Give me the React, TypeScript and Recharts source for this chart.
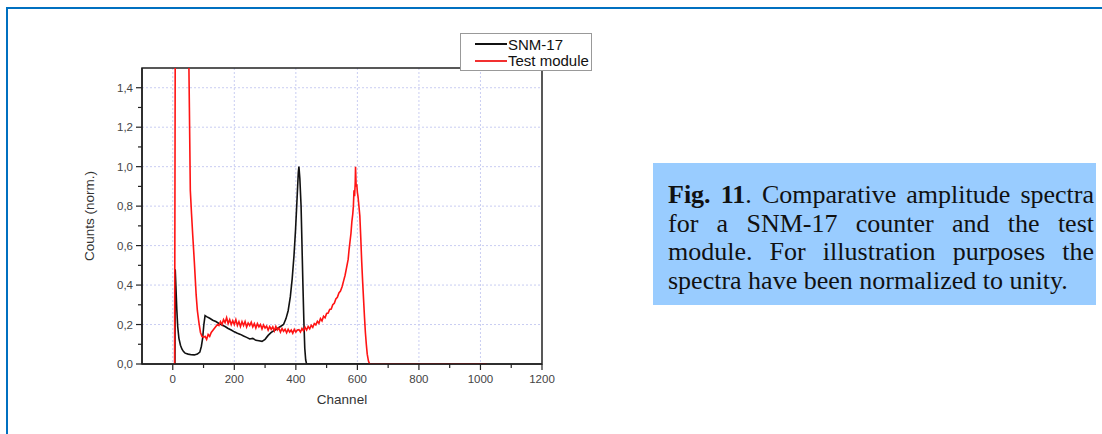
import React from "react";
import {
  LineChart,
  Line,
  XAxis,
  YAxis,
  CartesianGrid,
  Legend,
  ReferenceArea,
} from "recharts";

// channel, normalized counts
const snm17Points: [number, number][] = [
  [7, 0], [8, 0.48], [10, 0.4], [13, 0.28], [16, 0.19], [20, 0.13], [25, 0.095],
  [30, 0.075], [35, 0.063], [40, 0.055], [50, 0.05], [60, 0.047], [70, 0.046],
  [80, 0.05], [88, 0.06], [93, 0.09], [97, 0.13], [101, 0.2], [105, 0.245],
  [110, 0.24], [120, 0.232], [130, 0.222], [140, 0.215], [150, 0.205], [160, 0.198],
  [170, 0.19], [180, 0.18], [190, 0.172], [200, 0.163], [210, 0.156], [220, 0.15],
  [230, 0.142], [240, 0.135], [250, 0.127], [260, 0.13], [270, 0.12], [280, 0.118],
  [290, 0.115], [300, 0.125], [310, 0.145], [320, 0.16], [330, 0.17], [340, 0.18],
  [350, 0.19], [360, 0.2], [368, 0.23], [375, 0.27], [382, 0.34], [388, 0.43],
  [394, 0.55], [399, 0.68], [404, 0.84], [408, 0.97], [410, 1.0], [413, 0.94],
  [417, 0.8], [420, 0.6], [423, 0.4], [426, 0.22], [429, 0.08], [432, 0.02],
  [435, 0], [1020, 0],
];

const testModulePoints: [number, number][] = [
  [6, 0], [8, 1.6], [9, 3], [49, 3], [51, 1.7], [54, 1.3], [57, 0.88], [61, 0.76],
  [65, 0.65], [70, 0.52], [76, 0.35], [80, 0.27], [85, 0.21], [90, 0.16], [95, 0.14],
  [100, 0.135], [105, 0.14], [110, 0.125], [115, 0.15], [120, 0.14], [125, 0.16],
  [130, 0.17], [135, 0.18], [140, 0.19], [145, 0.2], [150, 0.195], [155, 0.215],
  [160, 0.2], [165, 0.225], [170, 0.21], [175, 0.235], [180, 0.205], [185, 0.225],
  [190, 0.2], [195, 0.22], [200, 0.2], [205, 0.225], [210, 0.195], [215, 0.215],
  [220, 0.19], [225, 0.215], [230, 0.195], [235, 0.215], [240, 0.188], [245, 0.208],
  [250, 0.195], [255, 0.212], [260, 0.188], [265, 0.205], [270, 0.182], [275, 0.205],
  [280, 0.188], [285, 0.2], [290, 0.178], [295, 0.198], [300, 0.182], [305, 0.192],
  [310, 0.172], [315, 0.19], [320, 0.175], [325, 0.188], [330, 0.168], [335, 0.19],
  [340, 0.172], [345, 0.182], [350, 0.162], [355, 0.18], [360, 0.166], [365, 0.176],
  [370, 0.158], [375, 0.176], [380, 0.162], [385, 0.172], [390, 0.156], [395, 0.176],
  [400, 0.162], [405, 0.172], [410, 0.174], [415, 0.162], [420, 0.18], [425, 0.168],
  [430, 0.186], [435, 0.172], [440, 0.19], [445, 0.178], [450, 0.196], [455, 0.186],
  [460, 0.205], [465, 0.198], [470, 0.216], [475, 0.206], [480, 0.23], [485, 0.218],
  [490, 0.242], [495, 0.234], [500, 0.256], [505, 0.258], [510, 0.276], [515, 0.278],
  [520, 0.3], [525, 0.308], [530, 0.33], [535, 0.338], [540, 0.36], [545, 0.37],
  [550, 0.39], [555, 0.42], [560, 0.45], [565, 0.49], [570, 0.53], [573, 0.58],
  [576, 0.62], [579, 0.66], [582, 0.72], [585, 0.76], [587, 0.8], [589, 0.88],
  [591, 0.85], [593, 0.92], [594, 1.0], [596, 0.9], [598, 0.91], [600, 0.87],
  [602, 0.85], [605, 0.8], [608, 0.75], [611, 0.64], [614, 0.52], [617, 0.42],
  [620, 0.33], [623, 0.24], [626, 0.16], [629, 0.1], [632, 0.05], [636, 0.015],
  [640, 0], [1020, 0],
];

const xTicks = [0, 100, 200, 300, 400, 500, 600, 700, 800, 900, 1000, 1100, 1200];
const yTicks = [0, 0.1, 0.2, 0.3, 0.4, 0.5, 0.6, 0.7, 0.8, 0.9, 1.0, 1.1, 1.2, 1.3, 1.4];
const xGrid = [0, 200, 400, 600, 800, 1000];
const yGrid = [0.2, 0.4, 0.6, 0.8, 1.0, 1.2, 1.4];

const captionLines = [
  "Comparative amplitude spectra",
  "for a SNM-17 counter and the test",
  "module. For illustration purposes the",
  "spectra have been normalized to unity.",
];

const snmData = snm17Points.map(([ch, v]) => ({ ch, v }));
const testData = testModulePoints.map(([ch, v]) => ({ ch, v }));

const sans = '"Liberation Sans", Arial, sans-serif';
const axisColor = "#222";

function XTick(props: any) {
  const { x, y, payload } = props;
  const major = payload.value % 200 === 0;
  return (
    <g>
      <line x1={x} x2={x} y1={y} y2={y + (major ? 6 : 4)} stroke={axisColor} strokeWidth={1.2} />
      {major && (
        <text x={x} y={y + 19} textAnchor="middle" fontSize={11.5} fontFamily={sans} fill="#444">
          {payload.value}
        </text>
      )}
    </g>
  );
}

function YTick(props: any) {
  const { x, y, payload } = props;
  const major = Math.round(payload.value * 10) % 2 === 0;
  return (
    <g>
      <line x1={x - (major ? 6 : 4)} x2={x} y1={y} y2={y} stroke={axisColor} strokeWidth={1.2} />
      {major && (
        <text x={x - 9} y={y + 4} textAnchor="end" fontSize={11.5} fontFamily={sans} fill="#444">
          {payload.value.toFixed(1).replace(".", ",")}
        </text>
      )}
    </g>
  );
}

function LegendBox() {
  const row = (color: string, label: string) => (
    <div style={{ display: "flex", alignItems: "center", height: 16.5 }}>
      <div style={{ width: 32, height: 0, borderTop: `2px solid ${color}`, marginLeft: 14 }} />
      <span style={{ marginLeft: 1, whiteSpace: "nowrap" }}>{label}</span>
    </div>
  );
  return (
    <div
      style={{
        width: 132,
        height: 38,
        boxSizing: "border-box",
        border: "1px solid #999",
        background: "#fff",
        fontFamily: sans,
        fontSize: 15,
        color: "#111",
        paddingTop: 2,
      }}
    >
      {row("#111", "SNM-17")}
      {row("#f23030", "Test module")}
    </div>
  );
}

export default function App() {
  return (
    <div
      style={{
        position: "absolute",
        left: 0,
        top: 0,
        width: 1102,
        height: 434,
        overflow: "hidden",
        background: "#fff",
      }}
    >
      <div
        style={{
          position: "absolute",
          left: 6,
          top: 7,
          width: 1200,
          height: 600,
          borderTop: "2px solid #0070C0",
          borderLeft: "2px solid #0070C0",
        }}
      />
      <div style={{ position: "absolute", left: 0, top: 0 }}>
        <LineChart width={600} height={434} margin={{ top: 68, right: 58, bottom: 20, left: 82 }}>
          <CartesianGrid
            stroke="#c9cdf2"
            strokeDasharray="2 2"
            horizontalValues={yGrid}
            verticalValues={xGrid}
          />
          <XAxis
            dataKey="ch"
            type="number"
            domain={[-100, 1200]}
            ticks={xTicks}
            interval={0}
            height={50}
            tickSize={0}
            tickMargin={0}
            tickLine={false}
            tick={<XTick />}
            axisLine={{ stroke: axisColor, strokeWidth: 1.5 }}
            label={{
              value: "Channel",
              position: "insideBottom",
              offset: 10,
              style: { fontSize: 13.5, fontFamily: sans, fill: "#333" },
            }}
          />
          <YAxis
            type="number"
            domain={[0, 1.5]}
            allowDataOverflow
            ticks={yTicks}
            interval={0}
            width={60}
            tickSize={0}
            tickMargin={0}
            tickLine={false}
            tick={<YTick />}
            axisLine={{ stroke: axisColor, strokeWidth: 1.5 }}
            label={{
              value: "Counts (norm.)",
              angle: -90,
              position: "insideLeft",
              offset: 7,
              style: { fontSize: 13.5, fontFamily: sans, fill: "#333", textAnchor: "middle" },
            }}
          />
          <ReferenceArea
            x1={-100}
            x2={1200}
            y1={0}
            y2={1.5}
            fill="none"
            fillOpacity={0}
            stroke={axisColor}
            strokeWidth={1.5}
            ifOverflow="visible"
          />
          <Line
            data={snmData}
            dataKey="v"
            name="SNM-17"
            type="linear"
            stroke="#111"
            strokeWidth={1.6}
            dot={false}
            isAnimationActive={false}
          />
          <Line
            data={testData}
            dataKey="v"
            name="Test module"
            type="linear"
            stroke="#ff1414"
            strokeWidth={1.6}
            dot={false}
            isAnimationActive={false}
          />
          <Legend
            layout="horizontal"
            verticalAlign="middle"
            align="center"
            wrapperStyle={{ top: 33, left: 460, width: 132, height: 38 }}
            content={() => <LegendBox />}
          />
        </LineChart>
      </div>
      <div
        style={{
          position: "absolute",
          left: 653,
          top: 163,
          width: 443,
          height: 142,
          boxSizing: "border-box",
          background: "#99CCFF",
          padding: "18px 2px 0 15px",
          fontFamily: '"Liberation Serif", "Times New Roman", serif',
          fontSize: 26,
          lineHeight: "28.5px",
          color: "#111",
        }}
      >
        {captionLines.map((line, i) => (
          <div
            key={i}
            style={{
              textAlign: i < 3 ? "justify" : "left",
              textAlignLast: i < 3 ? "justify" : "left",
            }}
          >
            {i === 0 && <b>Fig. 11</b>}
            {i === 0 ? ". " + line : line}
          </div>
        ))}
      </div>
    </div>
  );
}
